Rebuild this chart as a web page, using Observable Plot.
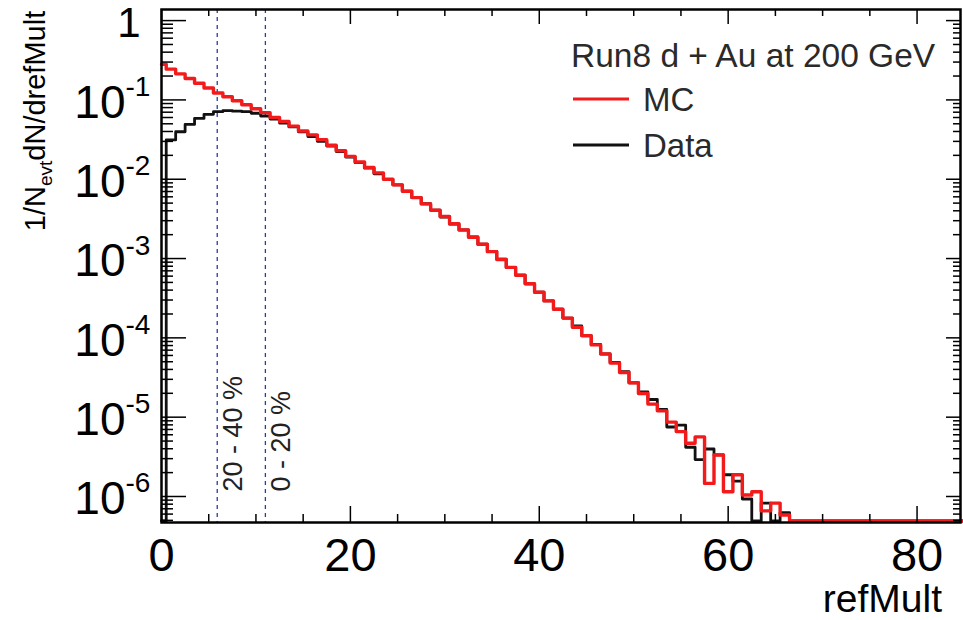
<!DOCTYPE html>
<html><head><meta charset="utf-8">
<script src="https://cdn.jsdelivr.net/npm/d3@7"></script>
<script src="https://cdn.jsdelivr.net/npm/@observablehq/plot@0.6"></script>
<style>body{margin:0;background:#fff;} svg{display:block;}</style>
</head><body><div id="chart"></div>
<script>
// ---- data (bin value per refMult bin 0..85; 0 = empty bin) ----
const mcValues = [
  0.269, 0.234, 0.204, 0.178, 0.155, 0.135, 0.117, 0.105, 0.0933, 0.0832,
  0.0741, 0.0661, 0.0575, 0.0513, 0.0447, 0.0389, 0.0347, 0.0302, 0.0257, 0.0219,
  0.0186, 0.0158, 0.0135, 0.0115, 0.00955, 0.00813, 0.00676, 0.00562, 0.00468, 0.00389,
  0.00324, 0.00263, 0.00219, 0.00178, 0.00145, 0.00117, 9.3e-4, 7.4e-4, 5.9e-4, 4.6e-4,
  3.6e-4, 2.8e-4, 2.2e-4, 1.7e-4, 1.3e-4, 1.02e-4, 7.8e-5, 6.0e-5, 4.6e-5, 3.5e-5,
  2.6e-5, 1.9e-5, 1.4e-5, 1.15e-5, 8.3e-6, 6.3e-6, 4.5e-6, 5.4e-6, 1.4e-6, 3.2e-6,
  1.1e-6, 1.8e-6, 1.0e-6, 1.1e-6, 6.3e-7, 7.9e-7, 5.6e-7, 0, 0, 0,
  0, 0, 0, 0, 0, 0, 0, 0, 0, 0,
  0, 0, 0, 0, 0, 0
];
const dataValues = [
  0, 0.030, 0.038, 0.047, 0.056, 0.063, 0.068, 0.070, 0.069, 0.068,
  0.065, 0.060, 0.055, 0.049, 0.0437, 0.038, 0.033, 0.0288, 0.0251, 0.0214,
  0.0182, 0.0155, 0.0132, 0.0112, 0.00955, 0.00813, 0.00676, 0.0056, 0.0047, 0.0039,
  0.0032, 0.0026, 0.0022, 0.0018, 0.00145, 0.00118, 9.4e-4, 7.4e-4, 5.9e-4, 4.6e-4,
  3.6e-4, 2.8e-4, 2.2e-4, 1.7e-4, 1.35e-4, 1.02e-4, 7.9e-5, 6.0e-5, 4.7e-5, 3.6e-5,
  2.6e-5, 2.0e-5, 1.6e-5, 1.2e-5, 7.2e-6, 7.6e-6, 4.0e-6, 2.8e-6, 3.8e-6, 3.2e-6,
  1.8e-6, 1.5e-6, 8.9e-7, 0, 7.9e-7, 0, 6.0e-7, 0, 0, 0,
  0, 0, 0, 0, 0, 0, 0, 0, 0, 0,
  0, 0, 0, 0, 0, 0
];
const centralityCuts = [5.9, 11.0];
const centralityLabels = ["20 - 40 %", "0 - 20 %"];
const xTickLabels = [0, 20, 40, 60, 80];
const xMinorTicks = [5, 10, 15, 25, 30, 35, 45, 50, 55, 65, 70, 75, 85];
const yDecadeExponents = [0, -1, -2, -3, -4, -5, -6];
const legendTitle = "Run8 d + Au at 200 GeV";
const seriesNames = ["MC", "Data"];
const seriesColors = ["#f21a1a", "#111111"];

// ---- layout ----
const W = 963, H = 620, mL = 161, mR = 3, mT = 9, mB = 98;
const plotW = W - mL - mR, plotH = H - mT - mB;
const xMax = 84.6, yMin = 4.7e-7, yMax = 1.38;
const FONT = "'Liberation Sans', Arial, Helvetica, sans-serif";

const toPts = arr => arr.map((v, i) => ({x: i, y: v > 0 ? v : yMin}));
const yMajor = yDecadeExponents.map(e => 10 ** e).filter(v => v >= yMin && v <= yMax);
const yMinor = [];
for (let e = -7; e <= 0; e++) for (let m = 2; m <= 9; m++) { const v = m * 10 ** e; if (v >= yMin && v <= yMax) yMinor.push(v); }

const plot = Plot.plot({
  width: W, height: H,
  marginLeft: mL, marginRight: mR, marginTop: mT, marginBottom: mB,
  style: {fontFamily: FONT, background: "white", color: "#000", overflow: "visible"},
  x: {domain: [0, xMax], axis: null},
  y: {type: "log", domain: [yMin, yMax], axis: null},
  marks: [
    Plot.ruleX(centralityCuts, {stroke: "#2b3c9e", strokeWidth: 1.3, strokeDasharray: "4,4"}),
    Plot.text(centralityCuts, {x: d => d, text: (d, i) => centralityLabels[i], frameAnchor: "bottom", dy: -31, dx: 16,
      rotate: -90, textAnchor: "start", lineAnchor: "middle", fontSize: 27, fill: "#222"}),
    Plot.line(toPts(dataValues), {x: "x", y: "y", curve: "step", stroke: seriesColors[1], strokeWidth: 2.8, dy: -1.5}),
    Plot.line(toPts(mcValues), {x: "x", y: "y", curve: "step", stroke: seriesColors[0], strokeWidth: 3.4, dy: -1.5}),
    // x ticks (inside, bottom and top)
    Plot.ruleX(xTickLabels, {insetTop: plotH - 16, stroke: "#000", strokeWidth: 1.5}),
    Plot.ruleX(xMinorTicks.filter(d => d < xMax), {insetTop: plotH - 8, stroke: "#000", strokeWidth: 1.5}),
    Plot.ruleX(xTickLabels, {insetBottom: plotH - 15, stroke: "#000", strokeWidth: 1.5}),
    Plot.ruleX(xMinorTicks.filter(d => d < xMax), {insetBottom: plotH - 7, stroke: "#000", strokeWidth: 1.5}),
    // y ticks (inside, left and right)
    Plot.ruleY(yMajor, {insetRight: plotW - 25, stroke: "#000", strokeWidth: 1.5}),
    Plot.ruleY(yMinor, {insetRight: plotW - 12, stroke: "#000", strokeWidth: 1.5}),
    Plot.ruleY(yMajor, {insetLeft: plotW - 14, stroke: "#000", strokeWidth: 1.5}),
    Plot.ruleY(yMinor, {insetLeft: plotW - 7, stroke: "#000", strokeWidth: 1.5}),
    Plot.frame({stroke: "#000", strokeWidth: 2.5}),
    // x tick labels
    Plot.text(xTickLabels, {x: d => d, text: d => String(d), frameAnchor: "bottom", dy: 33, lineAnchor: "middle", fontSize: 47, fill: "#000"}),
    // y tick labels
    Plot.text(yDecadeExponents.filter(e => e === 0), {y: e => 10 ** e, text: () => "1", frameAnchor: "left", dx: -21, dy: 3, textAnchor: "end", lineAnchor: "middle", fontSize: 42, fill: "#000"}),
    Plot.text(yDecadeExponents.filter(e => e !== 0), {y: e => 10 ** e, text: () => "10", frameAnchor: "left", dx: -36, dy: 3, textAnchor: "end", lineAnchor: "middle", fontSize: 46, fill: "#000"}),
    Plot.text(yDecadeExponents.filter(e => e !== 0), {y: e => 10 ** e, text: e => "-" + Math.abs(e), frameAnchor: "left", dx: -36, dy: -13, textAnchor: "start", lineAnchor: "middle", fontSize: 28, fill: "#000"})
  ]
});

const svg = d3.select(plot);
// y-axis title
const yt = svg.append("text")
  .attr("transform", "translate(45,121) rotate(-90)")
  .attr("text-anchor", "middle")
  .attr("font-family", FONT).attr("font-size", 29).attr("fill", "#000");
yt.append("tspan").text("1/N");
yt.append("tspan").attr("font-size", 19).attr("dy", 7).text("evt");
yt.append("tspan").attr("dy", -7).text("dN/drefMult");
// x-axis title
svg.append("text").attr("x", 942).attr("y", 612).attr("text-anchor", "end")
  .attr("font-family", FONT).attr("font-size", 39).attr("fill", "#000").text("refMult");
// legend
svg.append("text").attr("x", 571).attr("y", 67).attr("text-anchor", "start").attr("font-family", FONT).attr("font-size", 33.5)
  .attr("fill", "#2a2a2a").text(legendTitle);
seriesNames.forEach((name, i) => {
  const yy = 99 + i * 46;
  svg.append("line").attr("x1", 573).attr("x2", 629).attr("y1", yy).attr("y2", yy)
    .attr("stroke", seriesColors[i]).attr("stroke-width", 3);
  svg.append("text").attr("x", 643).attr("y", yy + 12).attr("text-anchor", "start").attr("font-family", FONT).attr("font-size", 33)
    .attr("fill", "#2a2a2a").text(name);
});
document.getElementById("chart").appendChild(plot);
</script>
</body></html>
